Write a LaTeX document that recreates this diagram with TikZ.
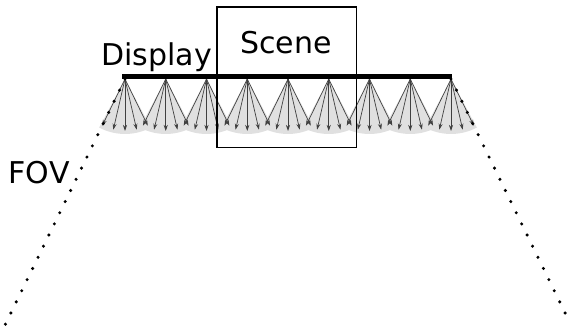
\documentclass[tikz,border=0pt]{standalone}
\usepackage{fontspec}
\setmainfont{DejaVu Sans}
\usetikzlibrary{arrows.meta}
\tikzset{
  beam/.style={draw=black!75, line width=0.7pt, -{Stealth[length=6pt,width=4pt]}},
  cone/.style={fill=black!12},
  fov/.style={line width=3.4pt, line cap=round, dash pattern=on 0pt off 12.4pt},
  lbl/.style={inner sep=0pt, font=\fontsize{30}{32}\selectfont}
}
\begin{document}
\begin{tikzpicture}[x=1pt,y=1pt]
  \useasboundingbox (0,0) rectangle (568,334);
  % emitters along the display
  \foreach \i in {0,...,8} {
    \coordinate (p\i) at (125+40.75*\i,255);
    \fill[cone] (p\i) -- ++(-118:55) arc (-118:-62:55) -- cycle;
  }
  \foreach \i in {0,...,8}
    \foreach \a in {-26,-13,0,13,26}
      \draw[beam] (p\i) -- ++(-90+\a:52);
  % scene box
  \draw[line width=1.3pt] (217,186.7) rectangle (356.5,327);
  % display bar
  \coordinate (dl) at (122,257.5);
  \coordinate (dr) at (452,257.5);
  \draw[line width=4.5pt] (dl) -- (dr);
  % field of view
  \draw[fov] (p0) -- ++(-116:285);
  \draw[fov] (p8) -- ++(-64:285);
  \node[lbl, anchor=base west] (display) at (101,268) {Display};
  \node[lbl, anchor=base] (scene) at (286,280.7) {Scene};
  \node[lbl, anchor=base west] (fov) at (8.5,150.7) {FOV};
\end{tikzpicture}
\end{document}
